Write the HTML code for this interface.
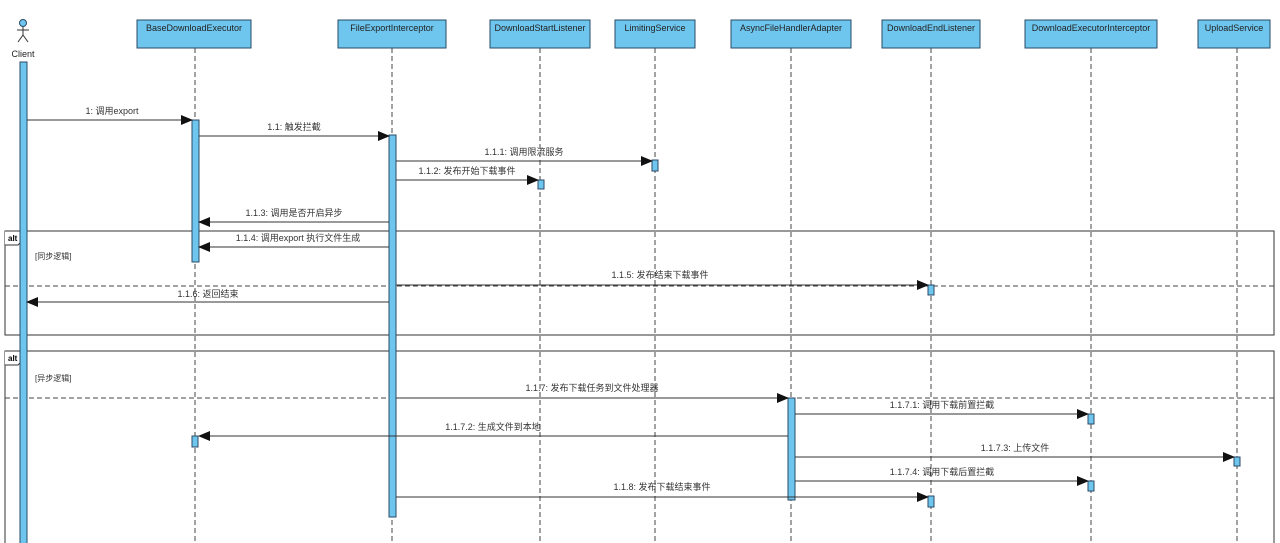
<!DOCTYPE html>
<html><head><meta charset="utf-8"><style>
html,body{margin:0;padding:0;background:#fff;}
svg{display:block;font-family:"Liberation Sans","Noto Sans CJK SC",sans-serif;}
.b{fill:#6ec6ef;stroke:#2a4a66;stroke-width:1}
.ll{stroke:#444;stroke-width:1;stroke-dasharray:5,3}
.m{stroke:#333;stroke-width:1}
.t{font-size:9px;fill:#333;text-anchor:middle}
.n{font-size:9px;fill:#222;text-anchor:middle}
</style></head><body>
<svg width="1280" height="543" viewBox="0 0 1280 543">
<defs><marker id="a" markerWidth="12" markerHeight="10" refX="11" refY="5" orient="auto" markerUnits="userSpaceOnUse"><path d="M0,0 L12,5 L0,10 z" fill="#111"/></marker></defs>
<!-- frames -->
<rect x="5" y="231" width="1269" height="104" fill="none" stroke="#333"/>
<path d="M5,231 h17 v10 l-4,4 h-13" fill="#fff" stroke="#333"/>
<text x="8" y="241" font-size="8" font-weight="bold">alt</text>
<text x="35" y="259" font-size="8" fill="#333">[同步逻辑]</text>
<line x1="5" y1="286" x2="1274" y2="286" class="ll"/>
<rect x="5" y="351" width="1269" height="200" fill="none" stroke="#333"/>
<path d="M5,351 h17 v10 l-4,4 h-13" fill="#fff" stroke="#333"/>
<text x="8" y="361" font-size="8" font-weight="bold">alt</text>
<text x="35" y="381" font-size="8" fill="#333">[异步逻辑]</text>
<line x1="5" y1="398" x2="1274" y2="398" class="ll"/>
<!-- lifelines -->
<g class="ll">
<line x1="195" y1="48" x2="195" y2="543"/><line x1="392" y1="48" x2="392" y2="543"/>
<line x1="540" y1="48" x2="540" y2="543"/><line x1="655" y1="48" x2="655" y2="543"/>
<line x1="791" y1="48" x2="791" y2="543"/><line x1="931" y1="48" x2="931" y2="543"/>
<line x1="1091" y1="48" x2="1091" y2="543"/><line x1="1237" y1="48" x2="1237" y2="543"/>
</g>
<!-- heads -->
<g class="b">
<rect x="137" y="20" width="114" height="28"/><rect x="338" y="20" width="108" height="28"/>
<rect x="490" y="20" width="100" height="28"/><rect x="615" y="20" width="80" height="28"/>
<rect x="731" y="20" width="120" height="28"/><rect x="882" y="20" width="98" height="28"/>
<rect x="1025" y="20" width="132" height="28"/><rect x="1198" y="20" width="72" height="28"/>
</g>
<g class="n">
<text x="194" y="31">BaseDownloadExecutor</text><text x="392" y="31">FileExportInterceptor</text>
<text x="540" y="31">DownloadStartListener</text><text x="655" y="31">LimitingService</text>
<text x="791" y="31">AsyncFileHandlerAdapter</text><text x="931" y="31">DownloadEndListener</text>
<text x="1091" y="31">DownloadExecutorInterceptor</text><text x="1234" y="31">UploadService</text>
</g>
<!-- actor -->
<circle cx="23" cy="23" r="3.5" fill="#6ec6ef" stroke="#2a4a66"/>
<path d="M23,27 v8 M17,30 h12 M23,35 l-5,7 M23,35 l5,7" stroke="#333" fill="none"/>
<text x="23" y="57" class="n">Client</text>
<!-- activations -->
<g class="b">
<rect x="20" y="62" width="7" height="490"/>
<rect x="192" y="120" width="7" height="142"/>
<rect x="389" y="135" width="7" height="382"/>
<rect x="652" y="160" width="6" height="11"/>
<rect x="538" y="180" width="6" height="9"/>
<rect x="928" y="285" width="6" height="10"/>
<rect x="788" y="398" width="7" height="102"/>
<rect x="192" y="436" width="6" height="11"/>
<rect x="1088" y="414" width="6" height="10"/>
<rect x="1234" y="457" width="6" height="9"/>
<rect x="1088" y="481" width="6" height="10"/>
<rect x="928" y="496" width="6" height="11"/>
</g>
<!-- messages -->
<g class="m" marker-end="url(#a)">
<line x1="27" y1="120" x2="192" y2="120"/>
<line x1="199" y1="136" x2="389" y2="136"/>
<line x1="396" y1="161" x2="652" y2="161"/>
<line x1="396" y1="180" x2="538" y2="180"/>
<line x1="389" y1="222" x2="199" y2="222"/>
<line x1="389" y1="247" x2="199" y2="247"/>
<line x1="396" y1="285" x2="928" y2="285"/>
<line x1="389" y1="302" x2="27" y2="302"/>
<line x1="396" y1="398" x2="788" y2="398"/>
<line x1="795" y1="414" x2="1088" y2="414"/>
<line x1="788" y1="436" x2="199" y2="436"/>
<line x1="795" y1="457" x2="1234" y2="457"/>
<line x1="795" y1="481" x2="1088" y2="481"/>
<line x1="396" y1="497" x2="928" y2="497"/>
</g>
<g class="t">
<text x="112" y="114">1: 调用export</text>
<text x="294" y="130">1.1: 触发拦截</text>
<text x="524" y="155">1.1.1: 调用限流服务</text>
<text x="467" y="174">1.1.2: 发布开始下载事件</text>
<text x="294" y="216">1.1.3: 调用是否开启异步</text>
<text x="298" y="241">1.1.4: 调用export 执行文件生成</text>
<text x="660" y="278">1.1.5: 发布结束下载事件</text>
<text x="208" y="297">1.1.6: 返回结束</text>
<text x="592" y="391">1.1.7: 发布下载任务到文件处理器</text>
<text x="942" y="408">1.1.7.1: 调用下载前置拦截</text>
<text x="493" y="430">1.1.7.2: 生成文件到本地</text>
<text x="1015" y="451">1.1.7.3: 上传文件</text>
<text x="942" y="475">1.1.7.4: 调用下载后置拦截</text>
<text x="662" y="490">1.1.8: 发布下载结束事件</text>
</g>
</svg>
</body></html>
